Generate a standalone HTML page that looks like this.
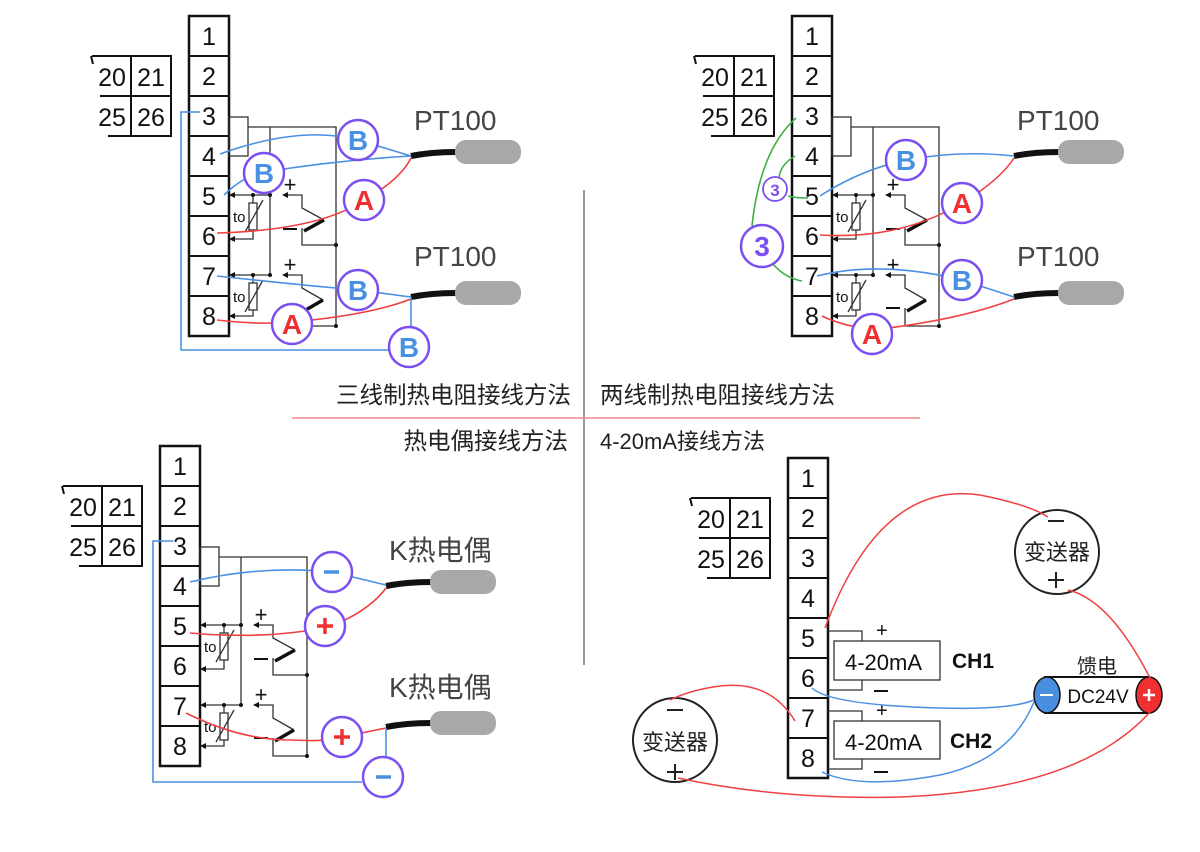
<!DOCTYPE html>
<html><head><meta charset="utf-8"><style>
html,body{margin:0;padding:0;background:#fff;width:1200px;height:852px;overflow:hidden}
svg{display:block}
text{font-family:"Liberation Sans","Noto Sans CJK SC",sans-serif}
</style></head><body>
<svg width="1200" height="852" viewBox="0 0 1200 852" xmlns="http://www.w3.org/2000/svg">
<defs>
 <g id="col">
  <rect x="189" y="16" width="40" height="320" fill="#fff" stroke="#111" stroke-width="2.5"/>
  <path d="M189 56H229M189 96H229M189 136H229M189 176H229M189 216H229M189 256H229M189 296H229" stroke="#111" stroke-width="2"/>
  <g font-size="25" fill="#111" text-anchor="middle">
   <text x="209" y="45">1</text><text x="209" y="85">2</text><text x="209" y="125">3</text><text x="209" y="165">4</text>
   <text x="209" y="205">5</text><text x="209" y="245">6</text><text x="209" y="285">7</text><text x="209" y="325">8</text>
  </g>
  <path d="M92 56H171V136H108M131 56V136M100 96H171" fill="none" stroke="#111" stroke-width="2"/>
  <path d="M91 56l2 8" stroke="#111" stroke-width="2"/>
  <g font-size="25" fill="#111" text-anchor="middle">
   <text x="112" y="86">20</text><text x="151" y="86">21</text><text x="112" y="126">25</text><text x="151" y="126">26</text>
  </g>
 </g>
 <g id="circ" stroke="#333" stroke-width="1.3" fill="none">
  <rect x="229" y="117" width="19" height="39"/>
  <path d="M248 127H336V327M270 127V275"/>
  <path d="M233 195H270M253 195V203M253 230V239H233"/>
  <rect x="249" y="203" width="8" height="27"/>
  <path d="M245 232L263 200"/>
  <path d="M233 275H270M253 275V283M253 310V316H233"/>
  <rect x="249" y="283" width="8" height="27"/>
  <path d="M245 312L263 280"/>
  <path d="M286 195H302V208L324 220M302 228V245H336"/>
  <path d="M324 220L304 231" stroke="#111" stroke-width="3.5"/>
  <path d="M286 275H302V288L323 300M302 308V326H336"/>
  <path d="M323 300L304 311" stroke="#111" stroke-width="3.5"/>
  <path d="M283 229H297M283 308H297" stroke="#111" stroke-width="2"/>
  <g fill="#111" stroke="none">
   <path d="M229 195l6-3v6zM229 239l6-3v6zM229 275l6-3v6zM229 316l6-3v6zM282 195l6-3v6zM282 275l6-3v6z"/>
   <circle cx="253" cy="195" r="2"/><circle cx="270" cy="195" r="2"/>
   <circle cx="253" cy="275" r="2"/><circle cx="270" cy="275" r="2"/>
   <circle cx="336" cy="245" r="2"/><circle cx="336" cy="326" r="2"/>
   <text x="233" y="222" font-size="15">to</text><text x="233" y="302" font-size="15">to</text>
   <text x="290" y="192" font-size="22" text-anchor="middle">+</text>
   <text x="290" y="272" font-size="22" text-anchor="middle">+</text>
  </g>
 </g>
 <g id="probe">
  <path d="M0 0 Q20 -4 45 -4" stroke="#111" stroke-width="6" fill="none"/>
  <rect x="44" y="-16" width="66" height="24" rx="11" fill="#a8a8a8"/>
 </g>
</defs>

<line x1="584" y1="190" x2="584" y2="665" stroke="#777" stroke-width="1.5"/>
<line x1="292" y1="418" x2="920" y2="418" stroke="#f08a8a" stroke-width="1.5"/>
<g font-size="23.5" fill="#222">
 <text x="571" y="403" text-anchor="end">三线制热电阻接线方法</text>
 <text x="600" y="403">两线制热电阻接线方法</text>
 <text x="568" y="449" text-anchor="end">热电偶接线方法</text>
 <text x="600" y="449" font-size="22">4-20mA接线方法</text>
</g>

<!-- Panel 1 -->
<use href="#col"/>
<use href="#circ"/>
<text x="414" y="130" font-size="28" fill="#444">PT100</text>
<text x="414" y="266" font-size="28" fill="#444">PT100</text>
<use href="#probe" transform="translate(411,156)"/>
<use href="#probe" transform="translate(411,297)"/>
<g fill="none" stroke-width="1.6">
 <path d="M220 154 Q300 125 358 140 L411 156" stroke="#4a90e2"/>
 <path d="M224 195 Q245 175 264 172 Q340 160 411 156" stroke="#4a90e2"/>
 <path d="M217 233 Q320 230 364 200 Q400 180 411 158" stroke="#f04040"/>
 <path d="M217 276 Q300 285 358 290 L411 297" stroke="#4a90e2"/>
 <path d="M217 320 Q260 325 292 322 Q370 315 411 299" stroke="#f04040"/>
 <path d="M200 112H181V350H390M411 297V330" stroke="#4a90e2"/>
</g>
<g stroke="#7b4ff0" stroke-width="2.5" fill="#fff">
 <circle cx="358" cy="140" r="20"/><circle cx="264" cy="173" r="20"/><circle cx="364" cy="200" r="20"/>
 <circle cx="358" cy="290" r="20"/><circle cx="292" cy="324" r="20"/><circle cx="409" cy="347" r="20"/>
</g>
<g font-size="28" font-weight="bold" text-anchor="middle">
 <text x="358" y="150" fill="#4a90e2">B</text><text x="264" y="183" fill="#4a90e2">B</text><text x="364" y="210" fill="#f03030">A</text>
 <text x="358" y="300" fill="#4a90e2">B</text><text x="292" y="334" fill="#f03030">A</text><text x="409" y="357" fill="#4a90e2">B</text>
</g>

<!-- Panel 2 -->
<g transform="translate(603,0)"><use href="#col"/><use href="#circ"/></g>
<text x="1017" y="130" font-size="28" fill="#444">PT100</text>
<text x="1017" y="266" font-size="28" fill="#444">PT100</text>
<use href="#probe" transform="translate(1014,156)"/>
<use href="#probe" transform="translate(1014,297)"/>
<g fill="none" stroke-width="1.6">
 <path d="M820 196 Q860 170 906 160 Q960 150 1014 156" stroke="#4a90e2"/>
 <path d="M820 235 Q900 240 962 203 Q1000 180 1014 158" stroke="#f04040"/>
 <path d="M817 276 Q880 260 962 280 L1014 297" stroke="#4a90e2"/>
 <path d="M822 316 Q840 325 872 330 Q960 320 1014 299" stroke="#f04040"/>
 <path d="M796 118 Q760 150 752 226" stroke="#3cb043"/>
 <path d="M795 156 Q780 165 779 178" stroke="#3cb043"/>
 <path d="M788 196 Q795 198 808 198" stroke="#3cb043"/>
 <path d="M773 264 Q785 278 802 281" stroke="#3cb043"/>
</g>
<g stroke="#7b4ff0" stroke-width="2.5" fill="#fff">
 <circle cx="906" cy="160" r="20"/><circle cx="962" cy="203" r="20"/><circle cx="962" cy="280" r="20"/><circle cx="872" cy="334" r="20"/>
 <circle cx="775" cy="189" r="12" stroke-width="1.8"/><circle cx="762" cy="246" r="21"/>
</g>
<g font-size="28" font-weight="bold" text-anchor="middle">
 <text x="906" y="170" fill="#4a90e2">B</text><text x="962" y="213" fill="#f03030">A</text>
 <text x="962" y="290" fill="#4a90e2">B</text><text x="872" y="344" fill="#f03030">A</text>
 <text x="775" y="196" fill="#7b4ff0" font-size="17">3</text><text x="762" y="256" fill="#7b4ff0">3</text>
</g>

<!-- Panel 3 -->
<g transform="translate(-29,430)"><use href="#col"/><use href="#circ"/></g>
<text x="389" y="560" font-size="28" fill="#444">K热电偶</text>
<text x="389" y="697" font-size="28" fill="#444">K热电偶</text>
<use href="#probe" transform="translate(386,586)"/>
<use href="#probe" transform="translate(386,727)"/>
<g fill="none" stroke-width="1.6">
 <path d="M190 582 Q260 565 332 572 L386 585" stroke="#4a90e2"/>
 <path d="M190 633 Q270 640 332 626 Q370 610 386 588" stroke="#f04040"/>
 <path d="M186 713 Q240 740 290 740 Q330 742 342 737 L386 728" stroke="#f04040"/>
 <path d="M173 541H153V782H362M386 728V765" stroke="#4a90e2"/>
</g>
<g stroke="#7b4ff0" stroke-width="2.5" fill="#fff">
 <circle cx="332" cy="572" r="20"/><circle cx="325" cy="626" r="20"/><circle cx="342" cy="737" r="20"/><circle cx="383" cy="777" r="20"/>
</g>
<g stroke-width="3.5">
 <path d="M324 572h15M376 777h15" stroke="#4a90e2"/>
 <path d="M317 626h16M325 618v16M334 737h16M342 729v16" stroke="#f03030"/>
</g>

<!-- Panel 4 -->
<g transform="translate(599,442)"><use href="#col"/></g>
<g fill="none" stroke="#333" stroke-width="1.3">
 <path d="M828 631H862V641M862 680V690H828M828 711H862V721M862 759V769H828"/>
 <rect x="834" y="641" width="106" height="39"/>
 <rect x="834" y="721" width="106" height="38"/>
</g>
<g font-size="22" fill="#111">
 <text x="845" y="670">4-20mA</text><text x="845" y="750">4-20mA</text>
 <text x="952" y="668" font-weight="bold" font-size="21">CH1</text>
 <text x="950" y="748" font-weight="bold" font-size="21">CH2</text>
 <text x="876" y="637" font-size="20">+</text><text x="876" y="717" font-size="20">+</text>
</g>
<path d="M874 691h14M874 772h14" stroke="#111" stroke-width="2"/>
<circle cx="1057" cy="552" r="42" fill="#fff" stroke="#222" stroke-width="2"/>
<circle cx="675" cy="740" r="42" fill="#fff" stroke="#222" stroke-width="2"/>
<g font-size="22" fill="#222" text-anchor="middle">
 <text x="1057" y="560">变送器</text><text x="675" y="750">变送器</text>
 <text x="1097" y="673" font-size="20">馈电</text>
</g>
<path d="M1048 521h16M1048 580h16M1056 572v16M667 710h16M667 772h16M675 764v16" stroke="#222" stroke-width="2"/>
<rect x="1045" y="677" width="104" height="36" fill="#fff" stroke="#111" stroke-width="2"/>
<ellipse cx="1047" cy="695" rx="13" ry="18" fill="#4a8ee0" stroke="#111" stroke-width="1.5"/>
<ellipse cx="1149" cy="695" rx="13" ry="18" fill="#f03030" stroke="#111" stroke-width="1.5"/>
<path d="M1040 695h13" stroke="#fff" stroke-width="2"/>
<path d="M1143 695h12M1149 689v12" stroke="#fff" stroke-width="2.5"/>
<text x="1098" y="703" font-size="19" fill="#111" text-anchor="middle">DC24V</text>
<g fill="none" stroke-width="1.5">
 <path d="M825 628 Q880 480 980 495 Q1030 505 1048 517" stroke="#f04040"/>
 <path d="M1068 590 Q1110 600 1150 678" stroke="#f04040"/>
 <path d="M795 721 Q770 680 720 686 Q690 690 670 700" stroke="#f04040"/>
 <path d="M678 778 Q780 800 900 797 Q1080 790 1150 712" stroke="#f04040"/>
 <path d="M812 688 Q830 705 940 708 Q1010 710 1034 700" stroke="#4a90e2"/>
 <path d="M822 772 Q860 790 940 775 Q1010 760 1034 702" stroke="#4a90e2"/>
</g>
</svg>
</body></html>
